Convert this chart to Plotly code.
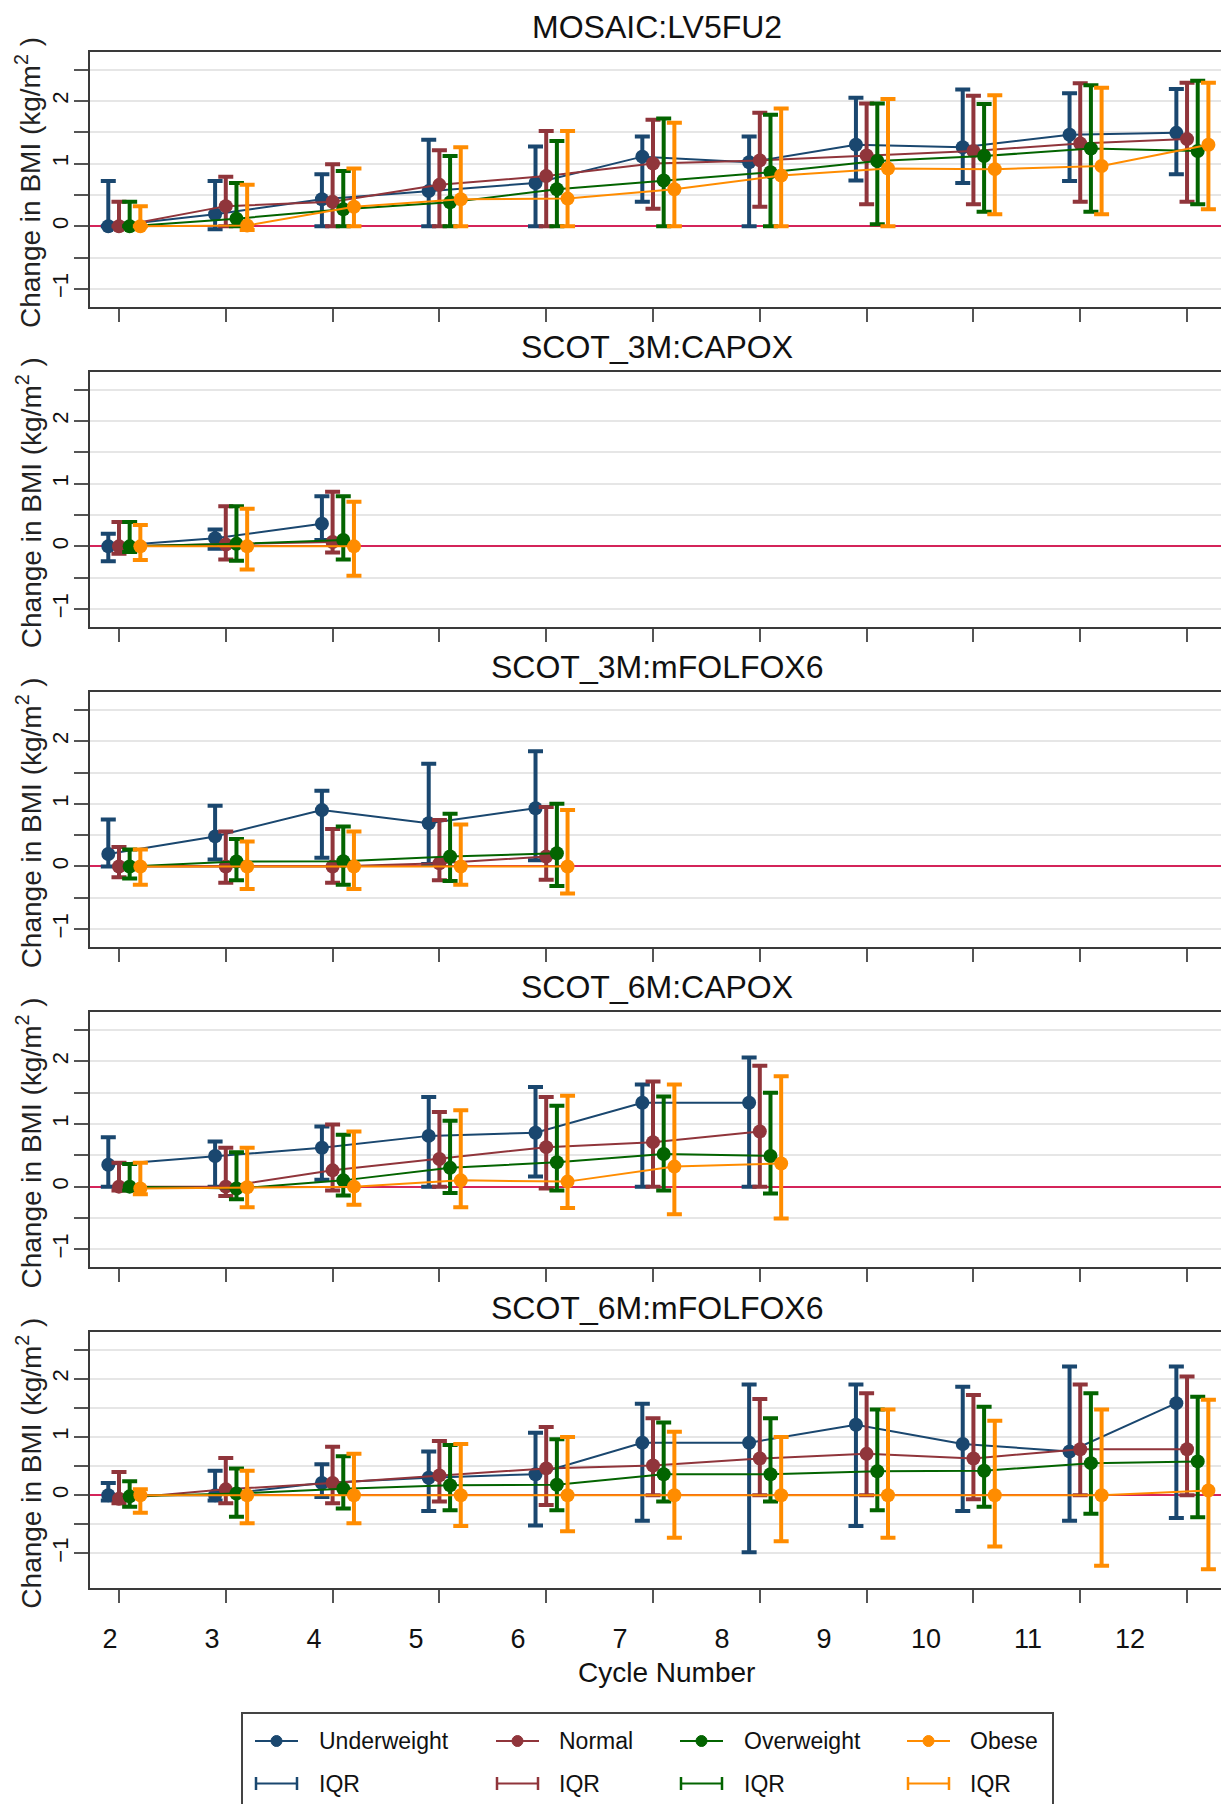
import plotly.graph_objects as go

# ---------------- data ----------------
cycles = [2, 3, 4, 5, 6, 7, 8, 9, 10, 11, 12]
cycle_labels = ["2", "3", "4", "5", "6", "7", "8", "9", "10", "11", "12"]
groups = ["Underweight", "Normal", "Overweight", "Obese"]
panel_titles = ["MOSAIC:LV5FU2", "SCOT_3M:CAPOX", "SCOT_3M:mFOLFOX6", "SCOT_6M:CAPOX", "SCOT_6M:mFOLFOX6"]

# MOSAIC:LV5FU2  (median, q1, q3 of change in BMI)
mosaic_med = {
    "Underweight": [0, 0.19, 0.43, 0.56, 0.69, 1.11, 1.02, 1.30, 1.26, 1.46, 1.49],
    "Normal":      [0, 0.32, 0.39, 0.66, 0.80, 1.00, 1.05, 1.13, 1.20, 1.32, 1.39],
    "Overweight":  [0, 0.12, 0.27, 0.38, 0.59, 0.73, 0.86, 1.04, 1.12, 1.24, 1.20],
    "Obese":       [0, 0.01, 0.31, 0.43, 0.44, 0.59, 0.81, 0.92, 0.91, 0.96, 1.30],
}
mosaic_q1 = {
    "Underweight": [0, -0.05, 0, 0, 0, 0.39, 0, 0.73, 0.69, 0.72, 0.83],
    "Normal":      [0, 0, 0, 0, 0, 0.28, 0.31, 0.35, 0.35, 0.39, 0.39],
    "Overweight":  [0, 0, 0, 0, 0, 0, 0, 0.03, 0.23, 0.23, 0.35],
    "Obese":       [0, -0.06, 0, 0, 0, 0, 0, 0, 0.19, 0.19, 0.27],
}
mosaic_q3 = {
    "Underweight": [0.72, 0.72, 0.83, 1.38, 1.27, 1.43, 1.43, 2.05, 2.18, 2.12, 2.19],
    "Normal":      [0.39, 0.79, 0.99, 1.21, 1.52, 1.70, 1.81, 1.96, 2.08, 2.28, 2.29],
    "Overweight":  [0.39, 0.69, 0.88, 1.12, 1.36, 1.72, 1.78, 1.96, 1.95, 2.25, 2.32],
    "Obese":       [0.32, 0.66, 0.92, 1.26, 1.52, 1.65, 1.88, 2.03, 2.09, 2.21, 2.29],
}

# SCOT_3M:CAPOX
scot3_capox_med = {
    "Underweight": [0, 0.13, 0.36],
    "Normal":      [0, 0.03, 0.07],
    "Overweight":  [0, 0.04, 0.10],
    "Obese":       [0, 0, 0],
}
scot3_capox_q1 = {
    "Underweight": [-0.24, -0.04, 0.10],
    "Normal":      [-0.12, -0.21, -0.10],
    "Overweight":  [-0.09, -0.23, -0.21],
    "Obese":       [-0.22, -0.37, -0.47],
}
scot3_capox_q3 = {
    "Underweight": [0.20, 0.27, 0.80],
    "Normal":      [0.39, 0.64, 0.87],
    "Overweight":  [0.39, 0.64, 0.80],
    "Obese":       [0.34, 0.60, 0.71],
}

# SCOT_3M:mFOLFOX6
scot3_folfox_med = {
    "Underweight": [0.20, 0.48, 0.90, 0.69, 0.93],
    "Normal":      [0, 0, 0, 0.05, 0.16],
    "Overweight":  [0, 0.08, 0.085, 0.16, 0.21],
    "Obese":       [0, 0, 0, 0, 0],
}
scot3_folfox_q1 = {
    "Underweight": [0, 0.11, 0.14, 0.04, 0.10],
    "Normal":      [-0.17, -0.26, -0.26, -0.22, -0.21],
    "Overweight":  [-0.19, -0.22, -0.29, -0.23, -0.31],
    "Obese":       [-0.29, -0.36, -0.36, -0.29, -0.43],
}
scot3_folfox_q3 = {
    "Underweight": [0.75, 0.97, 1.21, 1.64, 1.84],
    "Normal":      [0.31, 0.56, 0.60, 0.74, 0.95],
    "Overweight":  [0.27, 0.44, 0.64, 0.84, 1.00],
    "Obese":       [0.27, 0.40, 0.56, 0.67, 0.90],
}

# SCOT_6M:CAPOX
scot6_capox_med = {
    "Underweight": [0.35, 0.49, 0.62, 0.81, 0.86, 1.34, 1.34],
    "Normal":      [0, 0, 0.26, 0.44, 0.63, 0.71, 0.88],
    "Overweight":  [0, -0.03, 0.10, 0.30, 0.39, 0.52, 0.49],
    "Obese":       [-0.03, -0.01, 0, 0.10, 0.08, 0.32, 0.37],
}
scot6_capox_q1 = {
    "Underweight": [0, 0, 0.11, 0, 0.16, 0, 0],
    "Normal":      [-0.06, -0.15, -0.06, 0, -0.03, 0, 0],
    "Overweight":  [-0.06, -0.20, -0.14, -0.10, -0.06, -0.06, -0.11],
    "Obese":       [-0.12, -0.33, -0.29, -0.33, -0.34, -0.44, -0.51],
}
scot6_capox_q3 = {
    "Underweight": [0.79, 0.72, 0.96, 1.43, 1.59, 1.63, 2.06],
    "Normal":      [0.38, 0.62, 0.99, 1.19, 1.43, 1.68, 1.93],
    "Overweight":  [0.36, 0.55, 0.83, 1.05, 1.29, 1.44, 1.50],
    "Obese":       [0.38, 0.62, 0.88, 1.22, 1.45, 1.63, 1.76],
}

# SCOT_6M:mFOLFOX6
scot6_folfox_med = {
    "Underweight": [0, 0, 0.21, 0.30, 0.36, 0.90, 0.90, 1.21, 0.88, 0.75, 1.58],
    "Normal":      [-0.06, 0.10, 0.21, 0.34, 0.46, 0.51, 0.63, 0.71, 0.63, 0.79, 0.79],
    "Overweight":  [-0.02, 0.03, 0.11, 0.17, 0.18, 0.36, 0.36, 0.41, 0.42, 0.55, 0.58],
    "Obese":       [0, 0, 0, 0, 0, 0, 0, 0, 0, 0, 0.08],
}
scot6_folfox_q1 = {
    "Underweight": [-0.09, -0.09, -0.03, -0.27, -0.52, -0.44, -0.98, -0.53, -0.27, -0.44, -0.39],
    "Normal":      [-0.14, -0.14, -0.14, -0.11, -0.17, 0, 0, 0, -0.07, 0, 0],
    "Overweight":  [-0.20, -0.37, -0.23, -0.26, -0.26, -0.11, -0.11, -0.26, -0.20, -0.32, -0.38],
    "Obese":       [-0.30, -0.48, -0.48, -0.53, -0.62, -0.73, -0.79, -0.73, -0.88, -1.21, -1.27],
}
scot6_folfox_q3 = {
    "Underweight": [0.21, 0.42, 0.53, 0.75, 1.07, 1.57, 1.90, 1.90, 1.86, 2.21, 2.21],
    "Normal":      [0.40, 0.64, 0.83, 0.93, 1.17, 1.32, 1.65, 1.75, 1.72, 1.90, 2.04],
    "Overweight":  [0.24, 0.46, 0.67, 0.86, 0.96, 1.25, 1.32, 1.47, 1.52, 1.75, 1.69],
    "Obese":       [0.10, 0.42, 0.71, 0.88, 1.00, 1.09, 1.00, 1.47, 1.28, 1.47, 1.64],
}

y_major_ticks = [-1, 0, 1, 2]
y_minor_ticks = [-0.5, 0.5, 1.5, 2.5]

# ---------------- styling ----------------
W, H = 1221, 1804
FONT = "Arial, Liberation Sans, sans-serif"
colors = {"Underweight": "#1a476f", "Normal": "#90353b", "Overweight": "#036400", "Obese": "#ff8c00"}
offsets = {"Underweight": -0.1, "Normal": 0.0, "Overweight": 0.1, "Obese": 0.2}
zero_color = "#d4245a"
frame_color = "#3a3a3a"
tick_color = "#555555"
grid_color = "#e6e6e6"

panels = [
    (mosaic_med, mosaic_q1, mosaic_q3, [-1.29, 2.785]),
    (scot3_capox_med, scot3_capox_q1, scot3_capox_q3, [-1.29, 2.785]),
    (scot3_folfox_med, scot3_folfox_q1, scot3_folfox_q3, [-1.29, 2.785]),
    (scot6_capox_med, scot6_capox_q1, scot6_capox_q3, [-1.29, 2.785]),
    (scot6_folfox_med, scot6_folfox_q1, scot6_folfox_q3, [-1.587, 2.797]),
]

plot_left = 89.5
panel_top0 = 51.7
panel_pitch = 320.15
panel_h = 255.3


def fx(p):
    return p / W


def fy(p):
    return 1 - p / H


fig = go.Figure()
layout = {}
annotations = []
shapes = []

for i, (med, q1, q3, yr) in enumerate(panels):
    k = "" if i == 0 else str(i + 1)
    top = panel_top0 + panel_pitch * i
    bot = top + panel_h
    for g in groups:
        m = med[g]
        n = len(m)
        xs = [c + offsets[g] for c in cycles[:n]]
        up = [q3[g][j] - m[j] for j in range(n)]
        dn = [m[j] - q1[g][j] for j in range(n)]
        fig.add_trace(go.Scatter(
            x=xs, y=m, mode="lines+markers", name=g, showlegend=False,
            line=dict(color=colors[g], width=2),
            marker=dict(color=colors[g], size=14),
            error_y=dict(type="data", symmetric=False, array=up, arrayminus=dn,
                         color=colors[g], thickness=4, width=7.5),
            xaxis="x" + k, yaxis="y" + k,
        ))
    layout["xaxis" + k] = dict(
        domain=[fx(plot_left), 1], range=[1.724, 12.318], anchor="y" + k,
        tickvals=cycles, showticklabels=False, ticks="outside", ticklen=13,
        tickwidth=2, tickcolor=tick_color, showline=True, linecolor=frame_color,
        linewidth=2, mirror=True, showgrid=False, zeroline=False,
    )
    layout["yaxis" + k] = dict(
        domain=[fy(bot), fy(top)], range=yr, anchor="x" + k,
        tickvals=y_major_ticks, tickangle=-90, ticklabelstandoff=-3,
        tickfont=dict(family=FONT, size=22, color="#111111"),
        ticks="outside", ticklen=14, tickwidth=2, tickcolor=tick_color,
        minor=dict(tickvals=y_minor_ticks, ticks="outside", ticklen=14, tickwidth=2,
                   tickcolor=tick_color, showgrid=True, gridcolor=grid_color, gridwidth=2),
        showline=True, linecolor=frame_color, linewidth=2, mirror=False,
        showgrid=True, gridcolor=grid_color, gridwidth=2,
        zeroline=True, zerolinecolor=zero_color, zerolinewidth=2,
    )
    annotations.append(dict(
        text=panel_titles[i], xref="paper", yref="paper", x=fx(657), y=fy(top - 24.7),
        xanchor="center", yanchor="middle", showarrow=False,
        font=dict(family=FONT, size=32, color="#111111"),
    ))
    annotations.append(dict(
        text="Change in BMI (kg/m<sup>2</sup> )", xref="paper", yref="paper",
        x=fx(28.7), y=fy((top + bot) / 2 + 3), xanchor="center", yanchor="middle",
        textangle=-90, showarrow=False, font=dict(family=FONT, size=28, color="#222222"),
    ))

# bottom shared cycle labels
fig.add_trace(go.Scatter(x=cycles, y=[None] * len(cycles), mode="markers",
                         showlegend=False, hoverinfo="skip", xaxis="x6", yaxis="y5"))
layout["xaxis6"] = dict(
    domain=[fx(plot_left), 1], range=[1.799, 12.892], anchor="y5", overlaying="x5",
    side="bottom", tickvals=cycles, ticktext=cycle_labels, ticks="outside",
    ticklen=27, tickcolor="rgba(0,0,0,0)", showline=False, showgrid=False,
    zeroline=False, tickfont=dict(family=FONT, size=27, color="#111111"),
)
annotations.append(dict(
    text="Cycle Number", xref="paper", yref="paper", x=fx(666), y=fy(1672),
    xanchor="center", yanchor="middle", showarrow=False,
    font=dict(family=FONT, size=28, color="#111111"),
))

# legend (drawn manually: series row + IQR row)
shapes.append(dict(type="rect", xref="paper", yref="paper",
                   x0=fx(242), x1=fx(1053), y0=fy(1830), y1=fy(1713),
                   line=dict(color="#444444", width=2), fillcolor="rgba(0,0,0,0)"))
sym_x = {"Underweight": 255, "Normal": 496, "Overweight": 680, "Obese": 907}
txt_x = {"Underweight": 316.5, "Normal": 557, "Overweight": 741.5, "Obese": 968}
row1, row2 = 1741, 1783.5
for g in groups:
    x0 = sym_x[g]
    x1 = x0 + 43
    xc = (x0 + x1) / 2
    shapes.append(dict(type="line", xref="paper", yref="paper", x0=fx(x0), x1=fx(x1),
                       y0=fy(row1), y1=fy(row1), line=dict(color=colors[g], width=2)))
    shapes.append(dict(type="circle", xref="paper", yref="paper",
                       x0=fx(xc - 5.5), x1=fx(xc + 5.5), y0=fy(row1 + 5.5), y1=fy(row1 - 5.5),
                       line=dict(color=colors[g], width=1), fillcolor=colors[g]))
    shapes.append(dict(type="line", xref="paper", yref="paper", x0=fx(x0), x1=fx(x1),
                       y0=fy(row2), y1=fy(row2), line=dict(color=colors[g], width=2)))
    for xe in (x0 + 1, x1 - 1):
        shapes.append(dict(type="line", xref="paper", yref="paper", x0=fx(xe), x1=fx(xe),
                           y0=fy(row2 - 6.5), y1=fy(row2 + 6.5), line=dict(color=colors[g], width=2.5)))
    annotations.append(dict(text=g, xref="paper", yref="paper", x=fx(txt_x[g]), y=fy(row1),
                            xanchor="left", yanchor="middle", showarrow=False,
                            font=dict(family=FONT, size=23, color="#111111")))
    annotations.append(dict(text="IQR", xref="paper", yref="paper", x=fx(txt_x[g]), y=fy(row2),
                            xanchor="left", yanchor="middle", showarrow=False,
                            font=dict(family=FONT, size=23, color="#111111")))

fig.update_layout(
    width=W, height=H, margin=dict(l=0, r=0, t=0, b=0),
    paper_bgcolor="white", plot_bgcolor="white",
    font=dict(family=FONT, color="#111111"),
    annotations=annotations, shapes=shapes, showlegend=False,
    **layout,
)

fig.write_html("out.html")
